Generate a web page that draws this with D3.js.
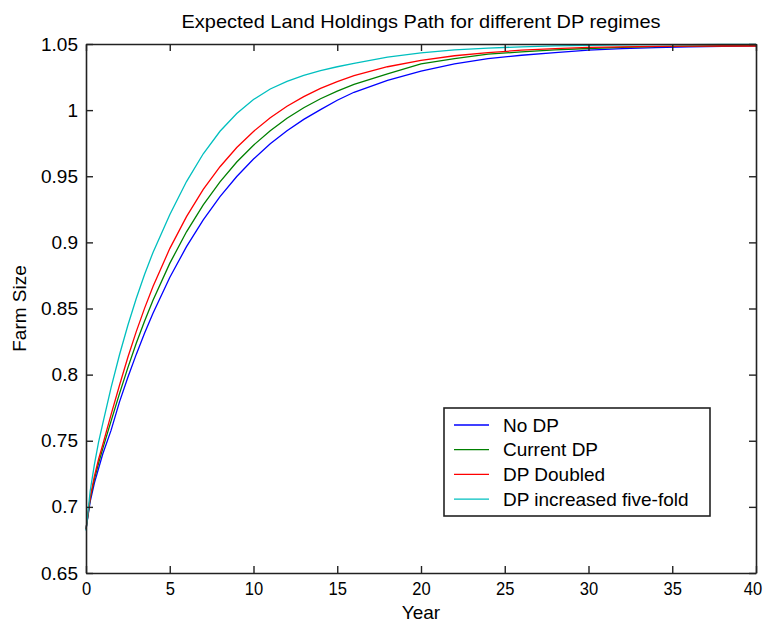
<!DOCTYPE html>
<html>
<head>
<meta charset="utf-8">
<script src="https://cdn.jsdelivr.net/npm/d3@7/dist/d3.min.js"></script>
<style>
  html, body { margin: 0; padding: 0; background: #fff; }
  svg { display: block; }
  text { font-family: "Liberation Sans", Arial, Helvetica, sans-serif; fill: #000; }
</style>
</head>
<body>
<svg id="chart" width="764" height="627"></svg>
<script>
// ---- data ----
const years = [0, 0.25, 0.5, 0.75, 1, 1.5, 2, 2.5, 3, 3.5, 4, 5, 6, 7, 8, 9, 10, 11, 12, 13, 14, 15, 16, 18, 20, 22, 24, 26, 28, 30, 32, 34, 36, 38, 40];
const noDP = [0.683, 0.704, 0.718, 0.729, 0.740, 0.758, 0.7794, 0.798, 0.8153, 0.8314, 0.8464, 0.8734, 0.8968, 0.917, 0.9346, 0.9498, 0.963, 0.9745, 0.9844, 0.993, 1.0004, 1.0075, 1.0135, 1.0225, 1.0295, 1.035, 1.039, 1.0415, 1.0435, 1.0453, 1.0465, 1.0473, 1.0479, 1.0483, 1.0486];
const currentDP = [0.683, 0.706, 0.721, 0.733, 0.744, 0.765, 0.7856, 0.8053, 0.8237, 0.8406, 0.8563, 0.8841, 0.908, 0.9284, 0.9458, 0.9608, 0.9735, 0.9844, 0.9938, 1.0018, 1.0086, 1.0144, 1.0194, 1.0274, 1.035, 1.039, 1.0424, 1.044, 1.0455, 1.0466, 1.0474, 1.048, 1.0484, 1.0486, 1.0487];
const dpDoubled = [0.683, 0.707, 0.723, 0.736, 0.747, 0.770, 0.792, 0.8131, 0.8325, 0.8503, 0.8666, 0.8953, 0.9195, 0.94, 0.9572, 0.9717, 0.9839, 0.9942, 1.0029, 1.0102, 1.0164, 1.0216, 1.026, 1.0328, 1.0376, 1.0411, 1.0435, 1.0453, 1.0465, 1.0474, 1.0479, 1.0482, 1.0484, 1.0485, 1.0485];
const dpFiveFold = [0.682, 0.712, 0.732, 0.749, 0.763, 0.7903, 0.815, 0.8373, 0.8576, 0.8759, 0.8924, 0.9209, 0.946, 0.967, 0.984, 0.9975, 1.008, 1.016, 1.0218, 1.0262, 1.0298, 1.0328, 1.0354, 1.0400, 1.0433, 1.0455, 1.0469, 1.0479, 1.0486, 1.049, 1.0493, 1.0495, 1.0496, 1.0497, 1.0497];
const seriesNames = ["No DP", "Current DP", "DP Doubled", "DP increased five-fold"];
const seriesColors = ["#0000ff", "#008000", "#ff0000", "#00bfbf"];
const xTicks = [0, 5, 10, 15, 20, 25, 30, 35, 40];
const yTicks = [0.65, 0.7, 0.75, 0.8, 0.85, 0.9, 0.95, 1, 1.05];
const titleText = "Expected Land Holdings Path for different DP regimes";
const xLabel = "Year";
const yLabel = "Farm Size";

// ---- layout ----
const L = 86, R = 756, T = 44, B = 573;
const svg = d3.select("#chart");
const x = d3.scaleLinear().domain([0, 40]).range([L, R]);
const y = d3.scaleLinear().domain([0.65, 1.05]).range([B, T]);
const tickLen = 7;
const fs = 19;

// lines
const seriesData = [noDP, currentDP, dpDoubled, dpFiveFold];
const line = d3.line().x((d, i) => x(years[i])).y(d => y(d));
seriesData.forEach((vals, k) => {
  svg.append("path").datum(vals)
    .attr("d", line)
    .attr("fill", "none")
    .attr("stroke", seriesColors[k])
    .attr("stroke-width", 1.3);
});

// axes (ticks inward, box)
const axisColor = "#222";
const gB = svg.append("g").attr("transform", `translate(0,${B})`)
  .call(d3.axisBottom(x).tickValues(xTicks).tickSizeInner(-tickLen).tickSizeOuter(0).tickPadding(9).tickFormat(d3.format("d")));
const gT = svg.append("g").attr("transform", `translate(0,${T})`)
  .call(d3.axisTop(x).tickValues(xTicks).tickSizeInner(-tickLen).tickSizeOuter(0).tickFormat(""));
const gL = svg.append("g").attr("transform", `translate(${L},0)`)
  .call(d3.axisLeft(y).tickValues(yTicks).tickSizeInner(-tickLen).tickSizeOuter(0).tickPadding(8).tickFormat(d => String(+d.toFixed(2))));
const gR = svg.append("g").attr("transform", `translate(${R},0)`)
  .call(d3.axisRight(y).tickValues(yTicks).tickSizeInner(-tickLen).tickSizeOuter(0).tickFormat(""));
[gB, gT, gL, gR].forEach(g => {
  g.selectAll(".domain").attr("stroke", axisColor).attr("stroke-width", 1.6);
  g.selectAll(".tick line").attr("stroke", axisColor).attr("stroke-width", 1.4);
  g.selectAll(".tick text").attr("font-size", fs).attr("font-family", "'Liberation Sans', Arial, sans-serif").attr("fill", "#000");
});
gB.selectAll(".tick text").attr("dy", "0.71em")
  .attr("textLength", d => String(d).length * 9.2).attr("lengthAdjust", "spacingAndGlyphs");
gB.selectAll(".tick text").filter(d => d === 40).attr("dx", -3.5);

// title & labels
svg.append("text").attr("x", (L + R) / 2).attr("y", 28)
  .attr("text-anchor", "middle").attr("font-size", 19)
  .attr("textLength", 479).attr("lengthAdjust", "spacingAndGlyphs").text(titleText);
svg.append("text").attr("x", (L + R) / 2).attr("y", 619)
  .attr("text-anchor", "middle").attr("font-size", fs).text(xLabel);
svg.append("text").attr("transform", `translate(26,${(T + B) / 2}) rotate(-90)`)
  .attr("text-anchor", "middle").attr("font-size", fs).text(yLabel);

// legend
const lg = svg.append("g");
lg.append("rect").attr("x", 444).attr("y", 408).attr("width", 266).attr("height", 108)
  .attr("fill", "#fff").attr("stroke", axisColor).attr("stroke-width", 1.6);
seriesNames.forEach((name, k) => {
  const cy = 425 + k * 24.7;
  lg.append("line").attr("x1", 454).attr("x2", 489).attr("y1", cy).attr("y2", cy)
    .attr("stroke", seriesColors[k]).attr("stroke-width", 1.3);
  lg.append("text").attr("x", 503).attr("y", cy).attr("dy", "0.35em")
    .attr("font-size", fs).text(name);
});
</script>
</body>
</html>
